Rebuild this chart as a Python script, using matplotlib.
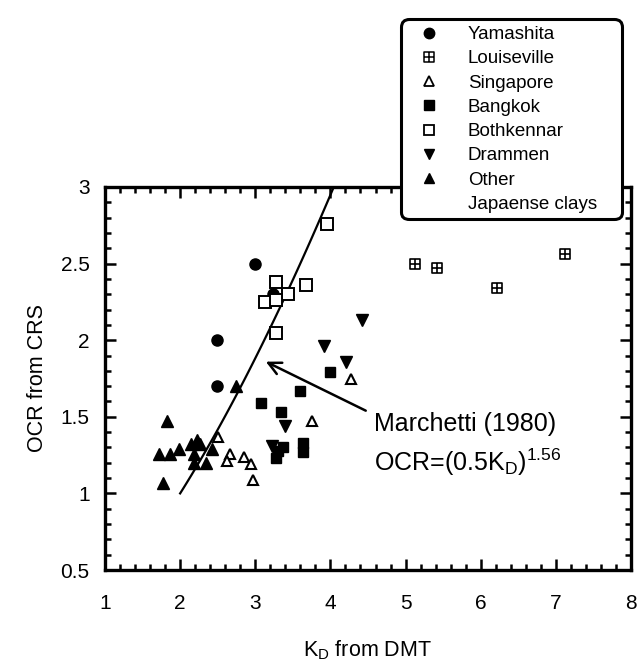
import numpy as np
import matplotlib
matplotlib.use("Agg")
import matplotlib.pyplot as plt
from matplotlib.path import Path
from matplotlib.lines import Line2D
from matplotlib.ticker import MultipleLocator, FormatStrFormatter

plt.rcParams['font.family'] = ['Liberation Sans', 'DejaVu Sans']
plt.rcParams['mathtext.default'] = 'regular'

# K_D from DMT (x) and OCR from CRS (y) for each site
yamashita_kd = [3.00, 2.49, 3.24, 2.49]
yamashita_ocr = [2.50, 2.00, 2.30, 1.70]

louiseville_kd = [5.13, 5.42, 6.22, 7.12]
louiseville_ocr = [2.50, 2.47, 2.34, 2.56]

singapore_kd = [4.28, 3.76, 2.51, 2.67, 2.62, 2.85, 2.94, 2.97]
singapore_ocr = [1.75, 1.47, 1.37, 1.26, 1.21, 1.24, 1.19, 1.09]

bangkok_kd = [4.00, 3.59, 3.08, 3.34, 3.63, 3.63, 3.37, 3.28, 3.30]
bangkok_ocr = [1.79, 1.67, 1.59, 1.53, 1.33, 1.27, 1.30, 1.23, 1.28]

bothkennar_kd = [3.96, 3.28, 3.67, 3.43, 3.13, 3.28, 3.28]
bothkennar_ocr = [2.76, 2.38, 2.36, 2.30, 2.25, 2.26, 2.05]

drammen_kd = [4.42, 3.91, 4.21, 3.40, 3.22]
drammen_ocr = [2.13, 1.96, 1.86, 1.44, 1.31]

other_kd = [1.83, 1.72, 1.87, 1.99, 1.77, 2.22, 2.15, 2.27, 2.19, 2.19,
            2.42, 2.35, 2.74]
other_ocr = [1.47, 1.26, 1.26, 1.29, 1.07, 1.35, 1.32, 1.32, 1.26, 1.20,
             1.29, 1.20, 1.70]

# Marchetti (1980) correlation OCR = (0.5 K_D)^1.56
marchetti_coef = 0.5
marchetti_exp = 1.56

x_ticks = [1, 2, 3, 4, 5, 6, 7, 8]
y_ticks = [0.5, 1, 1.5, 2, 2.5, 3]

# square with a cross inside
boxcross = Path(
    [(-1, -1), (1, -1), (1, 1), (-1, 1), (-1, -1),
     (0, -1), (0, 1), (-1, 0), (1, 0)],
    [Path.MOVETO, Path.LINETO, Path.LINETO, Path.LINETO, Path.CLOSEPOLY,
     Path.MOVETO, Path.LINETO, Path.MOVETO, Path.LINETO])

W, H = 639, 666
ax_l, ax_r, ax_t, ax_b = 105, 631, 187, 570

fig = plt.figure(figsize=(W / 100, H / 100), dpi=100)
ax = fig.add_axes([ax_l / W, (H - ax_b) / H, (ax_r - ax_l) / W, (ax_b - ax_t) / H])

k = 'black'
ax.plot(yamashita_kd, yamashita_ocr, 'o', ms=8, color=k, ls='none', zorder=3)
ax.plot(louiseville_kd, louiseville_ocr, ls='none', marker=boxcross, ms=7,
        mfc='none', mec=k, mew=1.2, zorder=3)
ax.plot(singapore_kd, singapore_ocr, '^', ms=7, mfc='white', mec=k, mew=1.5,
        ls='none', zorder=4)
ax.plot(bangkok_kd, bangkok_ocr, 's', ms=7.5, color=k, ls='none', zorder=3)
ax.plot(bothkennar_kd, bothkennar_ocr, 's', ms=8, mfc='white', mec=k,
        mew=1.4, ls='none', zorder=4)
ax.plot(drammen_kd, drammen_ocr, 'v', ms=8, color=k, ls='none', zorder=3)
ax.plot(other_kd, other_ocr, '^', ms=8, color=k, ls='none', zorder=3)

kd_line = np.linspace(1 / marchetti_coef,
                      3 ** (1 / marchetti_exp) / marchetti_coef, 100)
ax.plot(kd_line, (marchetti_coef * kd_line) ** marchetti_exp, color=k,
        lw=1.6, zorder=2)

ax.annotate('', xy=(3.14, 1.86), xytext=(4.47, 1.54),
            arrowprops=dict(arrowstyle='->,head_length=0.9,head_width=0.45',
                            color=k, lw=1.8, shrinkA=0, shrinkB=0))
ax.text(4.58, 1.45, 'Marchetti (1980)', fontsize=18, va='center', ha='left')
ax.text(4.58, 1.20, r'OCR=(0.5K$_{D}$)$^{1.56}$', fontsize=18,
        va='center', ha='left')

ax.set_xlim(1, 8)
ax.set_ylim(0.5, 3)
ax.set_xticks(x_ticks)
ax.set_yticks(y_ticks)
ax.xaxis.set_minor_locator(MultipleLocator(0.2))
ax.yaxis.set_minor_locator(MultipleLocator(0.1))
ax.yaxis.set_major_formatter(FormatStrFormatter('%g'))
ax.tick_params(which='both', direction='in', top=True, right=True,
               width=1.8, labelsize=15)
ax.tick_params(which='major', length=8)
ax.tick_params(which='minor', length=4)
ax.tick_params(axis='x', pad=17)
ax.tick_params(axis='y', pad=11)
for s in ax.spines.values():
    s.set_linewidth(2.4)

ax.set_xlabel(r'K$_{D}$ from DMT', fontsize=15.5)
ax.set_ylabel('OCR from CRS', fontsize=15.5)
ax.xaxis.set_label_coords(0.5, (ax_b - 638) / (ax_b - ax_t))
ax.yaxis.set_label_coords((48 - ax_l) / (ax_r - ax_l), 0.5)

handles = [
    Line2D([], [], marker='o', color=k, ls='none', ms=7.5),
    Line2D([], [], marker=boxcross, mfc='none', mec=k, mew=1.1, ls='none', ms=6.5),
    Line2D([], [], marker='^', mfc='white', mec=k, mew=1.3, ls='none', ms=7),
    Line2D([], [], marker='s', color=k, ls='none', ms=7),
    Line2D([], [], marker='s', mfc='white', mec=k, mew=1.3, ls='none', ms=7),
    Line2D([], [], marker='v', color=k, ls='none', ms=7.5),
    Line2D([], [], marker='^', color=k, ls='none', ms=7.5),
    Line2D([], [], ls='none'),
]
labels = ['Yamashita', 'Louiseville', 'Singapore', 'Bangkok', 'Bothkennar',
          'Drammen', 'Other', 'Japaense clays']
leg_l, leg_t = 392, 10
leg = fig.legend(handles, labels, loc='upper left',
                 bbox_to_anchor=(leg_l / W, 1 - leg_t / H, (ax_r - leg_l) / W, 0),
                 mode='expand', fontsize=13.5, labelspacing=0.38,
                 handletextpad=1.0, borderpad=0.35, handlelength=2.2,
                 fancybox=True, framealpha=1, edgecolor=k)
leg.get_frame().set_linewidth(2.2)
leg.get_frame().set_boxstyle('round,pad=0,rounding_size=0.4')
leg.set_zorder(10)

fig.savefig('out.png', dpi=100)
